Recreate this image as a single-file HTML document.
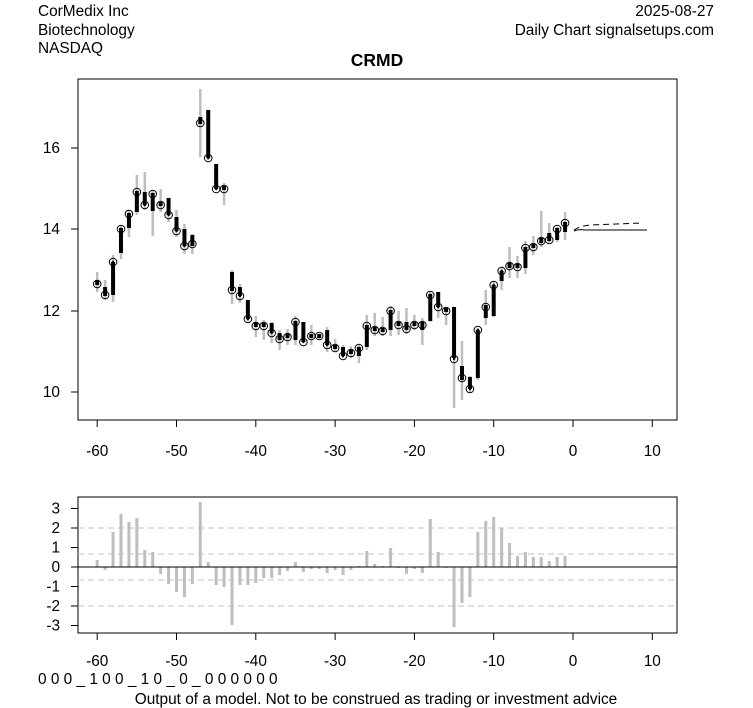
<!DOCTYPE html>
<html><head><meta charset="utf-8"><style>
body{margin:0;background:#fff;width:753px;height:708px;overflow:hidden}
svg{display:block}
text{font-family:"Liberation Sans",Arial,sans-serif;font-size:15.4px;fill:#000}
</style></head><body>
<svg id="s" width="753" height="708" xmlns="http://www.w3.org/2000/svg">
<text x="38" y="16">CorMedix Inc</text>
<text x="38" y="35">Biotechnology</text>
<text x="38" y="53">NASDAQ</text>
<text x="714" y="16" text-anchor="end">2025-08-27</text>
<text x="714" y="35" text-anchor="end">Daily Chart signalsetups.com</text>
<text x="377" y="66" text-anchor="middle" style="font-weight:bold;font-size:17.5px">CRMD</text>
<rect x="78" y="79" width="599" height="341" fill="none" stroke="#000"/>
<rect x="78" y="497" width="599" height="136" fill="none" stroke="#000"/>
<text x="38" y="684">0 0 0 _ 1 0 0 _ 1 0 _ 0 _ 0 0 0 0 0 0</text>
<text x="376" y="704" text-anchor="middle">Output of a model. Not to be construed as trading or investment advice</text>
<g id="g"></g>
</svg>
<script>
var g=document.getElementById('g'),h='';
function X(i){return 573+7.93*i;}
[[16,148],[14,229],[12,311],[10,392]].forEach(function(t){h+='<line x1="71" x2="78" y1="'+t[1]+'" y2="'+t[1]+'" stroke="#000"/><text x="60" y="'+(t[1]+5)+'" text-anchor="end">'+t[0]+'</text>';});
[[3,508.5],[2,528],[1,547.5],[0,567],[-1,586.5],[-2,606],[-3,625.5]].forEach(function(t){h+='<line x1="71" x2="78" y1="'+t[1]+'" y2="'+t[1]+'" stroke="#000"/><text x="60" y="'+(t[1]+5)+'" text-anchor="end">'+t[0]+'</text>';});
for(var v=-60;v<=10;v+=10){var x=X(v);
h+='<line x1="'+x+'" x2="'+x+'" y1="420" y2="427" stroke="#000"/><text x="'+x+'" y="456" text-anchor="middle">'+v+'</text>';
h+='<line x1="'+x+'" x2="'+x+'" y1="633" y2="640" stroke="#000"/><text x="'+x+'" y="666" text-anchor="middle">'+v+'</text>';}
[528,554,580,606].forEach(function(y){h+='<line x1="78" x2="677" y1="'+y+'" y2="'+y+'" stroke="#c0c0c0" stroke-dasharray="6,4"/>';});
var L=[560,570,532,514,522,518,550,552,574,584,592,597,584,502,562,585,587,625,585,585,583,578,578,575,571,562,572,569,569,573,570,575,570,566,551,564,566,548,567,574,569,573,519,552,567,627,603,597,532,521,517,528,543,556,552,557,557,561,557,556];
L.forEach(function(y,k){var x=X(k-60);h+='<rect x="'+(x-1.5)+'" y="'+Math.min(y,567)+'" width="3" height="'+Math.max(1,Math.abs(y-567))+'" fill="#bebebe"/>';});
h+='<line x1="78" x2="677" y1="567" y2="567" stroke="#000"/>';
var C=[[272,292,280,285,284],[280,300,287,296,295],[255,302,262,295,262],[225,259,228,253,229],[210,237,213,228,214],[175,215,191,212,192],[172,210,192,205,205],[190,236,193,211,194],[189,212,202,206,205],[198,222,198,215,215],[210,237,217,231,231],[224,254,229,246,246],[234,254,235,246,244],[89,157,117,124,123],[110,160,110,158,158],[164,189,164,189,189],[183,205,186,190,189],[270,304,272,291,290],[284,303,287,296,296],[300,323,300,319,319],[316,337,322,327,326],[320,340,323,327,326],[322,343,323,333,333],[330,350,333,340,339],[329,345,334,338,337],[316,345,321,340,322],[322,342,322,342,342],[325,345,334,338,336],[335,340,334,338,336],[327,352,330,345,345],[339,352,345,349,348],[345,358,347,356,356],[346,358,350,354,353],[345,363,347,356,348],[315,350,325,347,326],[313,336,327,331,330],[317,336,328,332,331],[306,336,310,330,311],[311,335,322,326,325],[308,334,322,330,329],[315,330,322,326,325],[318,345,322,330,325],[292,322,294,321,295],[292,318,292,307,307],[307,325,308,312,311],[307,408,307,358,359],[341,400,366,380,378],[376,393,377,389,389],[328,380,330,378,330],[290,325,305,318,307],[281,317,285,316,285],[268,290,271,281,271],[247,278,263,268,266],[256,278,264,268,267],[241,274,247,268,248],[236,255,244,248,247],[211,247,238,243,241],[223,243,233,241,240],[227,242,228,240,229],[212,240,222,232,223]];
C.forEach(function(c,k){var x=X(k-60);
h+='<line x1="'+x+'" x2="'+x+'" y1="'+c[0]+'" y2="'+c[1]+'" stroke="#bebebe" stroke-width="2.5"/>';
h+='<rect x="'+(x-2)+'" y="'+c[2]+'" width="4" height="'+Math.max(2,c[3]-c[2])+'" fill="#000"/>';
h+='<circle cx="'+x+'" cy="'+c[4]+'" r="3.8" fill="none" stroke="#000" stroke-width="1"/><circle cx="'+x+'" cy="'+c[4]+'" r="1.2" fill="#000"/>';});
h+='<path d="M574,231 Q578,229 584,230 L647,230" fill="none" stroke="#000"/>';
h+='<path d="M574,230 Q580,226 590,225 L643,223" fill="none" stroke="#000" stroke-dasharray="6,4"/>';
g.innerHTML=h;
</script>
</body></html>
